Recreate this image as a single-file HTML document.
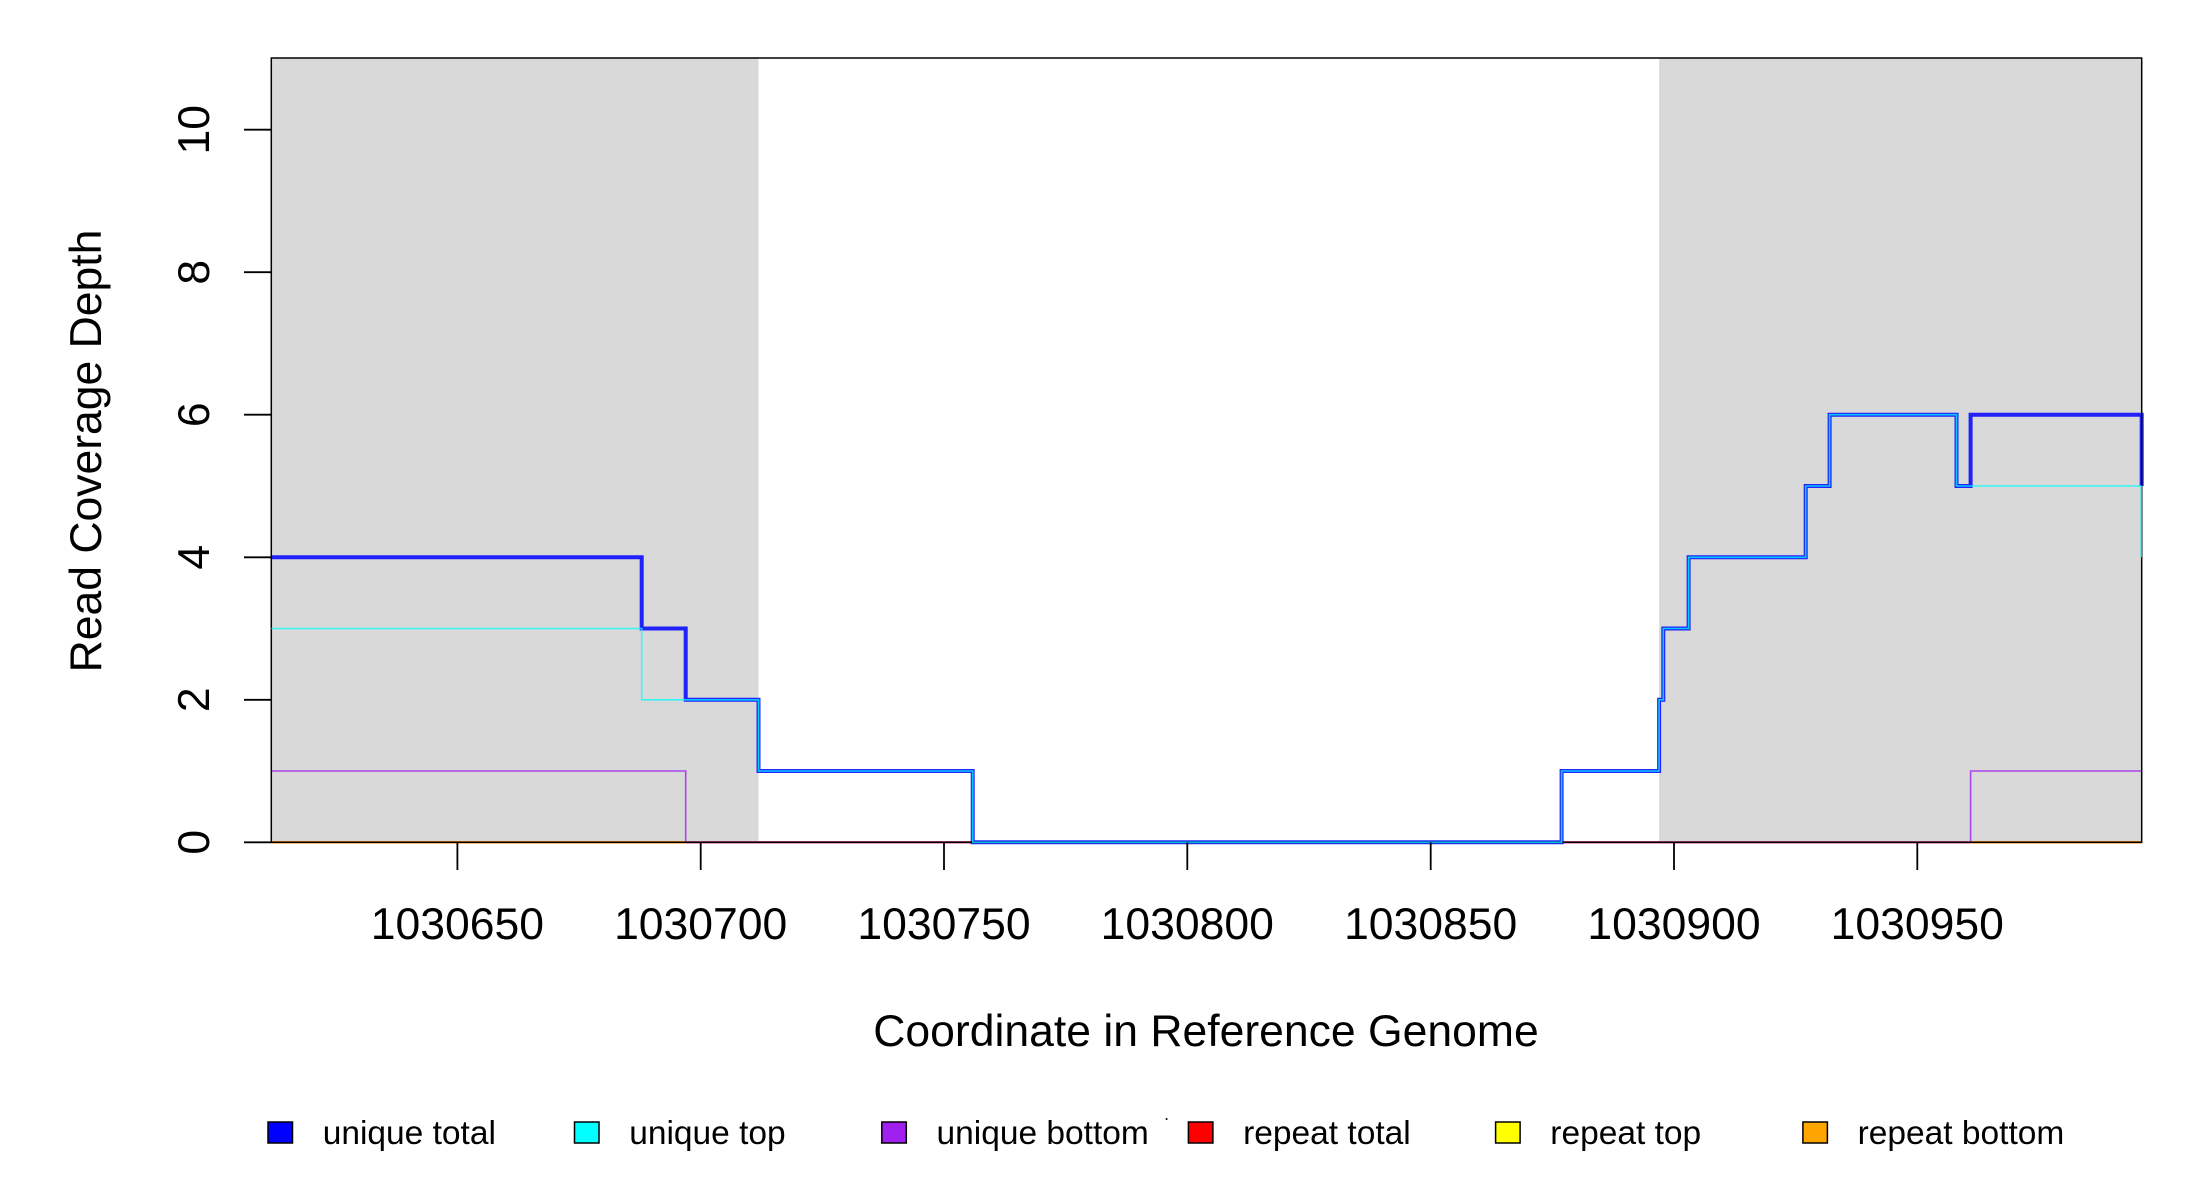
<!DOCTYPE html>
<html><head><meta charset="utf-8"><style>html,body{margin:0;padding:0;background:#fff}svg{display:block}</style></head>
<body>
<svg width="2200" height="1200" xmlns="http://www.w3.org/2000/svg" font-family="Liberation Sans, Arial, sans-serif">
<rect width="2200" height="1200" fill="#fff"/>
<rect x="271.3" y="58" width="487.2" height="784.3" fill="#d9d9d9"/>
<rect x="1659.1" y="58" width="482.6" height="784.3" fill="#d9d9d9"/>
<line x1="271.3" y1="842.3" x2="685.7" y2="842.3" stroke="#ff8c00" stroke-width="2.5"/>
<line x1="685.7" y1="842.3" x2="972.7" y2="842.3" stroke="#e06080" stroke-width="2.5"/>
<line x1="972.7" y1="842.3" x2="1561.6" y2="842.3" stroke="#5a5ae0" stroke-width="2.5"/>
<line x1="1561.6" y1="842.3" x2="1970.6" y2="842.3" stroke="#e06080" stroke-width="2.5"/>
<line x1="1970.6" y1="842.3" x2="2141.7" y2="842.3" stroke="#ff8c00" stroke-width="2.5"/>
<polyline fill="none" stroke="#a020f0" stroke-width="1.6" stroke-opacity="0.8" points="271.3,771 685.7,771 685.7,842.3 1970.6,842.3 1970.6,771 2141.7,771"/>
<polyline fill="none" stroke="#0000ff" stroke-width="4" stroke-opacity="0.85" points="271.3,557.3 641.7,557.3 641.7,628.5 685.7,628.5 685.7,699.8 758.5,699.8 758.5,771 972.7,771 972.7,842.3 1561.6,842.3 1561.6,771 1659.1,771 1659.1,699.8 1663.3,699.8 1663.3,628.5 1688.6,628.5 1688.6,557.3 1805.7,557.3 1805.7,486 1829.6,486 1829.6,414.7 1956.5,414.7 1956.5,486 1970.6,486 1970.6,414.7 2141.7,414.7 2141.7,486"/>
<rect x="271.3" y="58" width="1870.4" height="784.3" fill="none" stroke="#000" stroke-width="1.5"/>
<polyline fill="none" stroke="#00ffff" stroke-width="1.6" stroke-opacity="0.75" points="271.3,628.5 641.7,628.5 641.7,699.8 758.5,699.8 758.5,771 972.7,771 972.7,842.3 1561.6,842.3 1561.6,771 1659.1,771 1659.1,699.8 1663.3,699.8 1663.3,628.5 1688.6,628.5 1688.6,557.3 1805.7,557.3 1805.7,486 1829.6,486 1829.6,414.7 1956.5,414.7 1956.5,486 2141.2,486 2141.2,557.3"/>
<g stroke="#000" stroke-width="1.8">
<line x1="244" y1="842.3" x2="271.3" y2="842.3"/>
<line x1="244" y1="699.8" x2="271.3" y2="699.8"/>
<line x1="244" y1="557.3" x2="271.3" y2="557.3"/>
<line x1="244" y1="414.7" x2="271.3" y2="414.7"/>
<line x1="244" y1="272.2" x2="271.3" y2="272.2"/>
<line x1="244" y1="129.7" x2="271.3" y2="129.7"/>
</g>
<g font-size="44.5" text-anchor="middle" fill="#000">
<text transform="translate(209,842.3) rotate(-90)">0</text>
<text transform="translate(209,699.8) rotate(-90)">2</text>
<text transform="translate(209,557.3) rotate(-90)">4</text>
<text transform="translate(209,414.7) rotate(-90)">6</text>
<text transform="translate(209,272.2) rotate(-90)">8</text>
<text transform="translate(209,129.7) rotate(-90)">10</text>
<text transform="translate(101,451) rotate(-90)">Read Coverage Depth</text>
</g>
<g stroke="#000" stroke-width="1.8">
<line x1="457.4" y1="842.3" x2="457.4" y2="870"/>
<line x1="700.7" y1="842.3" x2="700.7" y2="870"/>
<line x1="944" y1="842.3" x2="944" y2="870"/>
<line x1="1187.3" y1="842.3" x2="1187.3" y2="870"/>
<line x1="1430.7" y1="842.3" x2="1430.7" y2="870"/>
<line x1="1674" y1="842.3" x2="1674" y2="870"/>
<line x1="1917.3" y1="842.3" x2="1917.3" y2="870"/>
</g>
<g font-size="44.5" text-anchor="middle" fill="#000">
<text x="457.4" y="939">1030650</text>
<text x="700.7" y="939">1030700</text>
<text x="944" y="939">1030750</text>
<text x="1187.3" y="939">1030800</text>
<text x="1430.7" y="939">1030850</text>
<text x="1674" y="939">1030900</text>
<text x="1917.3" y="939">1030950</text>
<text x="1206" y="1046">Coordinate in Reference Genome</text>
</g>
<g stroke="#000" stroke-width="1.5">
<rect x="268" y="1122" width="24.5" height="21" fill="#0000ff"/>
<rect x="574.5" y="1122" width="24.5" height="21" fill="#00ffff"/>
<rect x="881.8" y="1122" width="24.5" height="21" fill="#a020f0"/>
<rect x="1188.4" y="1122" width="24.5" height="21" fill="#ff0000"/>
<rect x="1495.6" y="1122" width="24.5" height="21" fill="#ffff00"/>
<rect x="1802.9" y="1122" width="24.5" height="21" fill="#ffa500"/>
</g>
<circle cx="1166.6" cy="1119" r="1" fill="#000"/>
<g font-size="33.5" fill="#000">
<text x="322.7" y="1144">unique total</text>
<text x="629.2" y="1144">unique top</text>
<text x="936.5" y="1144">unique bottom</text>
<text x="1243.1" y="1144">repeat total</text>
<text x="1550.3" y="1144">repeat top</text>
<text x="1857.6" y="1144">repeat bottom</text>
</g>
</svg>
</body></html>
